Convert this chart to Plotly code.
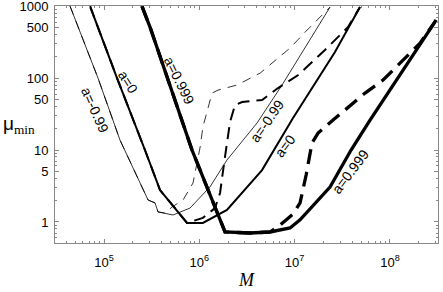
import plotly.graph_objects as go

# a = -0.99 (thin)
m_thin_solid = [4.40e4, 8.65e4, 1.47e5, 2.90e5, 3.43e5, 3.69e5, 5.30e5, 7.98e5, 1.29e6, 1.95e6, 4.03e6, 7.38e6, 2.35e7]
mu_thin_solid = [1000, 100, 13.8, 2.02, 1.84, 1.38, 1.25, 1.56, 3.06, 7.26, 23.7, 80, 968]
m_thin_dash = [4.40e4, 8.65e4, 1.47e5, 2.90e5, 3.43e5, 3.69e5, 4.37e5, 5.18e5, 6.75e5, 8.59e5, 1.02e6, 1.09e6, 1.36e6, 1.57e6, 2.49e6, 4.34e6, 8.95e6, 1.29e7, 2.35e7]
mu_thin_dash = [1000, 100, 13.8, 2.02, 1.84, 1.38, 1.33, 1.62, 2.02, 3.48, 11.0, 20.8, 61.9, 68, 80, 117, 261, 435, 968]

# a = 0 (medium)
m_med_solid = [7.13e4, 1.37e5, 2.69e5, 3.87e5, 7.43e5, 1.09e6, 1.95e6, 4.55e6, 9.62e6, 2.65e7, 4.85e7]
mu_med_solid = [1000, 100, 10, 2.78, 0.97, 0.97, 1.47, 5.27, 27.8, 230, 968]
m_med_dash = [7.13e4, 1.37e5, 2.69e5, 3.87e5, 7.43e5, 1.09e6, 1.46e6, 1.65e6, 1.82e6, 2.10e6, 2.37e6, 2.81e6, 4.55e6, 6.70e6, 1.09e7, 2.08e7, 3.63e7, 4.85e7]
mu_med_dash = [1000, 100, 10, 2.78, 0.97, 1.14, 1.56, 2.53, 6.59, 24.5, 42.2, 46.4, 49.5, 72.6, 110, 245, 511, 968]

# a = 0.999 (thick)
m_thick_solid = [2.50e5, 3.04e5, 8.38e5, 1.86e6, 3.41e6, 5.52e6, 8.95e6, 1.14e7, 2.35e7, 3.91e7, 6.18e7, 3.05e8]
mu_thick_solid = [1000, 511, 10, 0.726, 0.703, 0.726, 0.826, 1.07, 3.06, 10, 26.1, 639]
m_thick_dash = [2.50e5, 3.04e5, 8.38e5, 1.86e6, 3.41e6, 5.52e6, 7.03e6, 9.62e6, 1.14e7, 1.32e7, 1.52e7, 1.76e7, 2.53e7, 5.48e7, 8.47e7, 2.07e8, 3.05e8]
mu_thick_dash = [1000, 511, 10, 0.726, 0.703, 0.726, 0.908, 1.29, 1.84, 4.49, 12.5, 17.2, 26.1, 61.9, 93.8, 306, 639]

x_tickvals = [1e5, 1e6, 1e7, 1e8]
x_ticktext = ["10<sup>5</sup>", "10<sup>6</sup>", "10<sup>7</sup>", "10<sup>8</sup>"]
y_tickvals = [1, 5, 10, 50, 100, 500, 1000]
y_ticktext = ["1", "5", "10", "50", "100", "500", "1000"]

# curve labels: (text, log10 M, log10 mu, angle)
labels = [
    ("a=-0.99", 4.906, 1.556, 66),
    ("a=0", 5.252, 1.944, 58),
    ("a=0.999", 5.787, 1.972, 64),
    ("a=-0.99", 6.710, 1.403, -55),
    ("a=0", 6.899, 1.056, -53),
    ("a=0.999", 7.581, 0.694, -53),
]

fig = go.Figure()
def add(x, y, w, dash):
    fig.add_trace(go.Scatter(x=x, y=y, mode="lines",
                             line=dict(color="black", width=w, dash=dash),
                             showlegend=False, hoverinfo="skip"))

add(m_thin_dash, mu_thin_dash, 0.8, "9px,7px")
add(m_med_dash, mu_med_dash, 2.0, "12px,7px")
add(m_thick_dash, mu_thick_dash, 3.3, "15px,8px")
add(m_thin_solid, mu_thin_solid, 0.8, "solid")
add(m_med_solid, mu_med_solid, 2.0, "solid")
add(m_thick_solid, mu_thick_solid, 3.3, "solid")

for t, lx, ly, ang in labels:
    fig.add_annotation(x=lx, y=ly, xref="x", yref="y", text=t, showarrow=False,
                       textangle=ang, font=dict(size=14, color="black",
                                                family="Liberation Sans, Arial, sans-serif"))

minor_x = []
for e in range(4, 9):
    for k in range(2, 10):
        v = k * 10 ** e
        if 3e4 <= v <= 3.2e8:
            minor_x.append(v)
minor_y = []
for e in range(-1, 3):
    for k in range(2, 10):
        v = k * 10 ** e
        if 0.51 <= v <= 1000:
            minor_y.append(v)

axis_common = dict(showline=True, linecolor="#888", linewidth=1, mirror="allticks",
                   ticks="inside", ticklen=4, tickcolor="#888", showgrid=False, zeroline=False,
                   automargin=False, ticklabeloverflow="allow",
                   tickfont=dict(size=13, color="black", family="Liberation Sans, Arial, sans-serif"))

fig.update_xaxes(type="log", range=[4.486, 8.504], tickmode="array",
                 tickvals=x_tickvals, ticktext=x_ticktext, ticklabelstandoff=7,
                 minor=dict(tickmode="array", tickvals=minor_x, ticks="inside", ticklen=2, tickcolor="#888"),
                 **axis_common)
fig.update_yaxes(type="log", range=[-0.292, 3.001], tickmode="array",
                 tickvals=y_tickvals, ticktext=y_ticktext, ticklabelstandoff=3,
                 minor=dict(tickmode="array", tickvals=minor_y, ticks="inside", ticklen=2, tickcolor="#888"),
                 **axis_common)

fig.add_annotation(xref="paper", yref="paper", x=-0.141, y=0.5, xanchor="left", yanchor="middle",
                   text="μ<sub><span style='font-family:Liberation Serif,Times New Roman,serif'>min</span></sub>",
                   showarrow=False, font=dict(size=19, color="black", family="Liberation Sans, Arial, sans-serif"))
fig.add_annotation(xref="paper", yref="paper", x=0.501, y=-0.156, xanchor="center", yanchor="middle",
                   text="<i>M</i>", showarrow=False,
                   font=dict(size=18, color="black", family="Liberation Serif, Times New Roman, serif"))

fig.update_layout(template="none", width=443, height=292, margin=dict(l=55, r=5, t=6, b=49, autoexpand=False),
                  plot_bgcolor="white", paper_bgcolor="white")
fig.write_html("out.html", config={"displayModeBar": False},
               post_script="document.body.style.margin='0';document.body.style.overflow='hidden';")
